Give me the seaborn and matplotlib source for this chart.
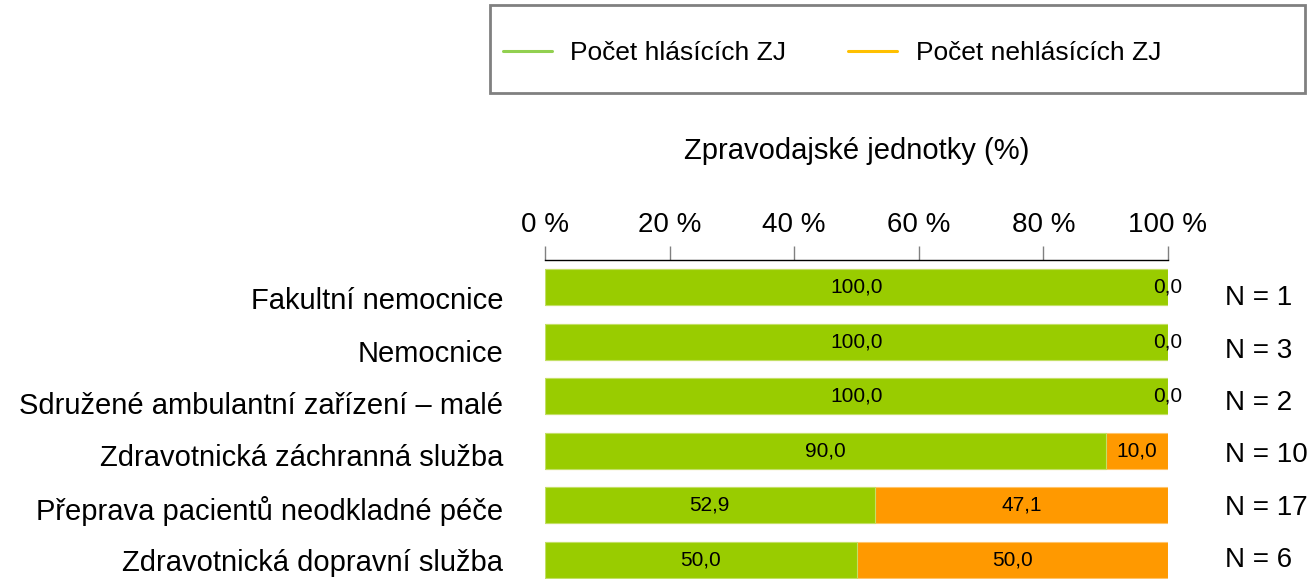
import matplotlib
matplotlib.use("Agg")
import matplotlib.pyplot as plt
import matplotlib.transforms as mtransforms
from matplotlib.patches import Rectangle
from matplotlib.lines import Line2D
import seaborn as sns
import pandas as pd

categories = [
    "Fakultní nemocnice",
    "Nemocnice",
    "Sdružené ambulantní zařízení – malé",
    "Zdravotnická záchranná služba",
    "Přeprava pacientů neodkladné péče",
    "Zdravotnická dopravní služba",
]
reporting = [100.0, 100.0, 100.0, 90.0, 52.9, 50.0]
not_reporting = [0.0, 0.0, 0.0, 10.0, 47.1, 50.0]
n_counts = [1, 3, 2, 10, 17, 6]
xticks = [0, 20, 40, 60, 80, 100]
series_names = ["Počet hlásících ZJ", "Počet nehlásících ZJ"]

sns.set_theme(style="white")
plt.rcParams["font.family"] = ["Liberation Sans", "DejaVu Sans"]
plt.rcParams["text.color"] = "black"
plt.rcParams["axes.labelcolor"] = "black"
plt.rcParams["xtick.color"] = "black"
plt.rcParams["ytick.color"] = "black"

GREEN = "#99CC00"
ORANGE = "#FF9900"
LEG_GREEN = "#92D050"
LEG_ORANGE = "#FFC000"

df = pd.DataFrame({
    "cat": categories,
    "rep": reporting,
    "non": not_reporting,
})
df["total"] = df["rep"] + df["non"]

fig = plt.figure(figsize=(13.13, 5.79), dpi=100)
ax = fig.add_axes([545 / 1313, 0.0, (1168 - 545) / 1313, 1 - 260 / 579])

sns.barplot(data=df, y="cat", x="total", color=ORANGE, orient="h",
            width=0.66, ax=ax, edgecolor="#FFC46B", linewidth=0.8, saturation=1)
sns.barplot(data=df, y="cat", x="rep", color=GREEN, orient="h",
            width=0.66, ax=ax, edgecolor="#C2E066", linewidth=0.8, saturation=1)

ax.set_ylim(5.35, -0.5)
ax.set_xlim(0, 100)

nrows = len(categories)


def row_shift(i):
    # category / N labels sit slightly below bar centres at the top rows
    return mtransforms.ScaledTranslation(0, -(11 - 2.2 * i) / 100, fig.dpi_scale_trans)


for i, (r, nr, n) in enumerate(zip(reporting, not_reporting, n_counts)):
    ax.text(r / 2, i, f"{r:.1f}".replace(".", ","), ha="center", va="center",
            fontsize=15, color="black")
    ax.text(r + nr / 2, i, f"{nr:.1f}".replace(".", ","), ha="center", va="center",
            fontsize=15, color="black")
    ax.text(1.092, i, f"N = {n}",
            transform=ax.get_yaxis_transform() + row_shift(i),
            ha="left", va="center", fontsize=20, color="black")

ax.xaxis.set_ticks_position("top")
ax.xaxis.set_label_position("top")
ax.set_xticks(xticks)
ax.set_xticklabels([f"{t} %" for t in xticks], fontsize=20)
ax.tick_params(axis="x", direction="out", length=10, width=1, color="#808080",
               pad=6, top=True, bottom=False)
ax.tick_params(axis="y", length=0, labelsize=21, pad=30)
ax.set_xlabel("Zpravodajské jednotky (%)", fontsize=21, labelpad=38)
ax.set_ylabel("")

for i, lab in enumerate(ax.get_yticklabels()):
    lab.set_transform(lab.get_transform() + row_shift(i))

for s in ["right", "bottom", "left"]:
    ax.spines[s].set_visible(False)
ax.spines["top"].set_color("black")
ax.spines["top"].set_linewidth(1)

# legend frame
fig.patches.append(Rectangle((490 / 1313, 1 - 93 / 579), 815 / 1313, 88 / 579,
                             transform=fig.transFigure, fill=False,
                             edgecolor="#808080", linewidth=2))
handles = [Line2D([0], [0], color=LEG_GREEN, lw=2.2),
           Line2D([0], [0], color=LEG_ORANGE, lw=2.2)]
fig.legend(handles, series_names, loc="center left",
           bbox_to_anchor=(503 / 1313, 1 - 53 / 579), ncol=2, frameon=False,
           fontsize=19, handlelength=1.85, handletextpad=0.7, columnspacing=2.35,
           borderpad=0, borderaxespad=0)

fig.savefig("out.png", dpi=100)
